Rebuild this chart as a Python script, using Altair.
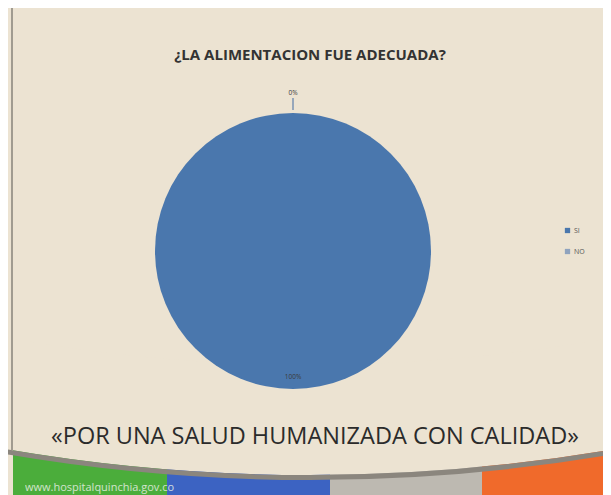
import math
import altair as alt
import pandas as pd

# ---- data ----
respuestas = ["SI", "NO"]
porcentajes = [100, 0]
etiquetas = ["100%", "0%"]
colores = ["#4a77ad", "#8fa3be"]

titulo = "¿LA ALIMENTACION FUE ADECUADA?"
lema = "«POR UNA SALUD HUMANIZADA CON CALIDAD»"
web = "www.hospitalquinchia.gov.co"
colores_franjas = ["#4bad3b", "#3c63c2", "#bdb9b1", "#f06a2b"]

df = pd.DataFrame({"Respuesta": respuestas, "Porcentaje": porcentajes, "Etiqueta": etiquetas})
uno = pd.DataFrame({"k": [0]})

# ---- layout ----
W, H = 595, 487
CX, CY = 285, 243
R = 138
BG = "#ece3d2"
TXT = "#333333"

layers = []

# bottom banner stripes
franja_x = [(5, 159), (159, 322), (322, 474), (474, W)]
for (x0, x1), c in zip(franja_x, colores_franjas):
    layers.append(
        alt.Chart(uno).mark_rect(color=c).encode(
            x=alt.value(x0), x2=alt.value(x1), y=alt.value(436), y2=alt.value(H)
        )
    )

# curved mask + grey band
BX, BY, BR = 302, -1330, 1797
layers.append(
    alt.Chart(uno).mark_arc(color=BG, clip=True).encode(
        x=alt.value(BX), y=alt.value(BY),
        theta=alt.value(math.pi - 0.2), theta2=alt.value(math.pi + 0.2),
        radius=alt.value(BR), radius2=alt.value(BR - 110),
    )
)
layers.append(
    alt.Chart(uno).mark_arc(color="#8b867e", clip=True).encode(
        x=alt.value(BX), y=alt.value(BY),
        theta=alt.value(math.pi - 0.2), theta2=alt.value(math.pi + 0.2),
        radius=alt.value(BR + 5), radius2=alt.value(BR),
    )
)

# left slide border line
layers.append(
    alt.Chart(uno).mark_rule(color="#6f6b64", strokeWidth=1.2).encode(
        x=alt.value(4), y=alt.value(0), y2=alt.value(442)
    )
)

base = alt.Chart(df)

pie = base.mark_arc(outerRadius=R).encode(
    theta=alt.Theta("Porcentaje:Q", stack=True),
    color=alt.Color(
        "Respuesta:N",
        scale=alt.Scale(domain=respuestas, range=colores),
        sort=respuestas,
        legend=alt.Legend(
            orient="none", legendX=556, legendY=219, title=None,
            symbolType="square", symbolSize=28, symbolStrokeWidth=0,
            labelFontSize=7, labelColor="#555555", labelFont="Open Sans",
            rowPadding=13, labelOffset=3,
        ),
    ),
    order=alt.Order("Respuesta:N", sort="descending"),
    x=alt.value(CX), y=alt.value(CY),
)

leader = base.mark_arc(radius=R + 15, radius2=R + 3, fillOpacity=0,
                       stroke="#7a93b3", strokeWidth=1).encode(
    theta=alt.Theta("Porcentaje:Q", stack=True),
    detail="Respuesta:N",
    order=alt.Order("Respuesta:N", sort="descending"),
    strokeOpacity=alt.condition("datum.Respuesta == 'NO'", alt.value(1), alt.value(0)),
    x=alt.value(CX), y=alt.value(CY),
)

labels = base.transform_calculate(
    r="datum.Respuesta == 'NO' ? 158 : 126"
).mark_text(fontSize=6.5, color="#3a3a3a", font="Open Sans").encode(
    theta=alt.Theta("Porcentaje:Q", stack=True),
    radius=alt.Radius("r:Q", scale=None),
    detail="Respuesta:N",
    order=alt.Order("Respuesta:N", sort="descending"),
    text="Etiqueta:N",
    x=alt.value(CX), y=alt.value(CY),
)

layers += [pie, leader, labels]

layers.append(
    alt.Chart(uno).mark_text(text=titulo, font="Open Sans", fontWeight="bold",
                             fontSize=15, color=TXT, baseline="middle").encode(
        x=alt.value(302), y=alt.value(47)
    )
)
layers.append(
    alt.Chart(uno).mark_text(text=lema, font="Open Sans", fontSize=23.5,
                             color="#2b2b2b", baseline="middle").encode(
        x=alt.value(307), y=alt.value(429)
    )
)
layers.append(
    alt.Chart(uno).mark_text(text=web, font="Open Sans", fontSize=11,
                             color="#e8efe4", opacity=0.85, align="left",
                             baseline="middle").encode(
        x=alt.value(17), y=alt.value(480)
    )
)

chart = alt.layer(*layers).properties(
    width=W, height=H, padding=0, autosize=alt.AutoSizeParams(type="none")
).configure(background=BG).configure_view(stroke=None)

chart.save("out.html", embed_options={"renderer": "svg", "actions": False})
